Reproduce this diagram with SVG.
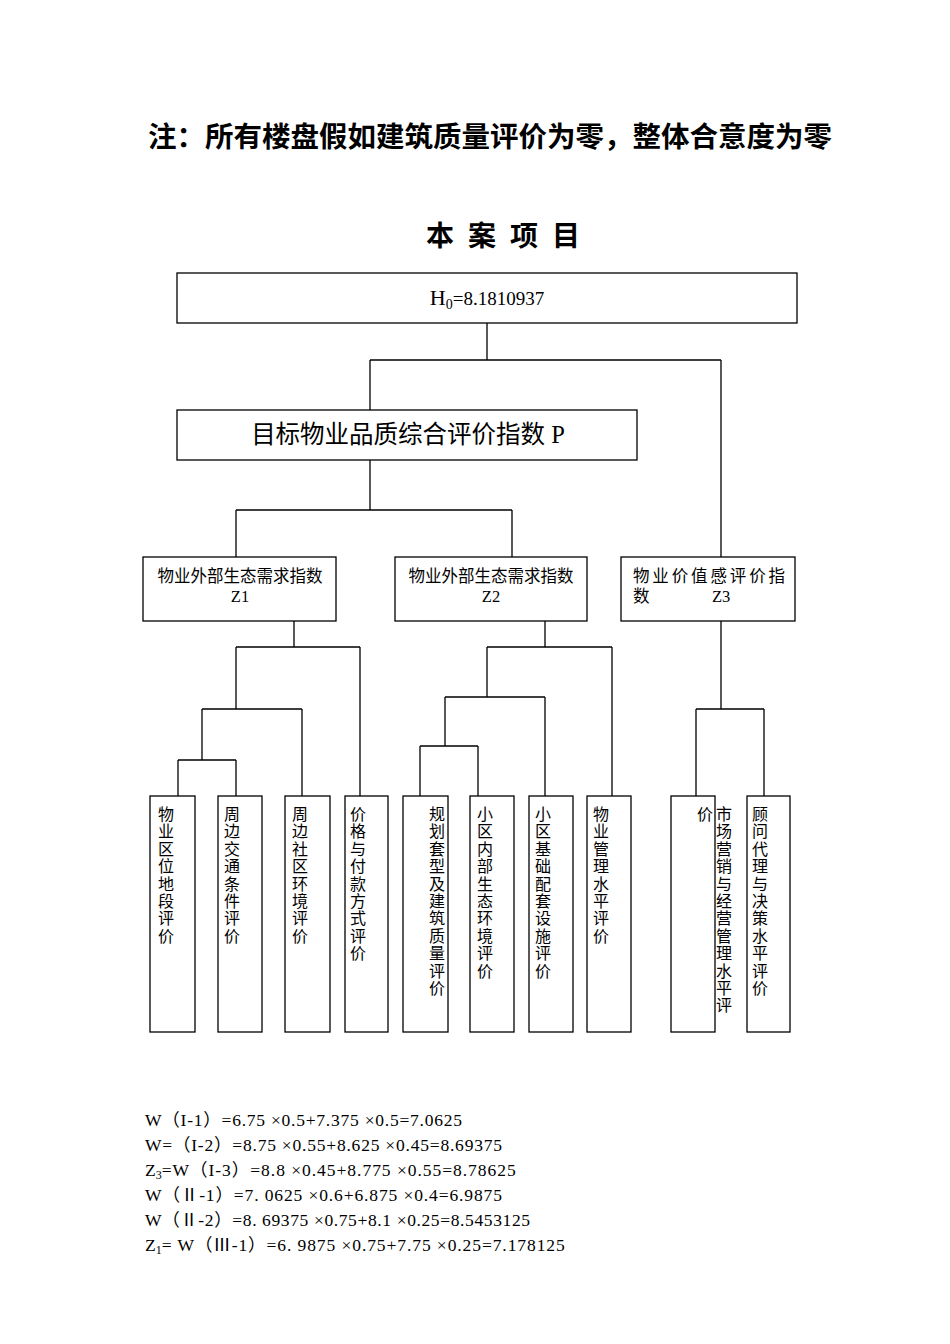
<svg xmlns="http://www.w3.org/2000/svg" width="950" height="1344" viewBox="0 0 950 1344">
<style>
.b{fill:#fff;stroke:#000;stroke-width:1.3}
.c{fill:none;stroke:#000;stroke-width:1.3}
text{font-family:"Liberation Serif","Noto Sans CJK SC",serif;fill:#000}
.h{font-weight:bold;font-size:28px}
.m{font-size:16.5px;text-anchor:middle}
.v{font-size:16px;text-anchor:middle}
.f{font-size:17.5px}
</style>
<rect width="950" height="1344" fill="#fff"/>
<text class="h" x="148" y="147" textLength="684" lengthAdjust="spacingAndGlyphs">注：所有楼盘假如建筑质量评价为零，整体合意度为零</text>
<text class="h" x="510" y="246" text-anchor="middle" letter-spacing="14">本案项目</text>
<g id="connectors">
<path class="c" d="M487 323V360M370 360H721M370 360V410M721 360V557"/>
<path class="c" d="M370 460V510M236 510H512M236 510V557M512 510V557"/>
<path class="c" d="M294 621V647M236 647H360M360 647V796M236 647V709M202 709H302M302 709V796M202 709V760M178 760H236M178 760V796M236 760V796"/>
<path class="c" d="M545 621V647M487 647H612M612 647V796M487 647V697M445 697H545M545 697V796M445 697V746M420 746H478M420 746V796M478 746V796"/>
<path class="c" d="M721 621V709M696 709H764M696 709V796M764 709V796"/>
</g>
<g id="H0"><rect class="b" x="177" y="273" width="620" height="50"/><text x="487" y="305" text-anchor="middle" font-size="22">H<tspan font-size="14" dy="4">0</tspan><tspan dy="-4" font-size="19">=8.1810937</tspan></text></g>
<g id="P"><rect class="b" x="177" y="410" width="460" height="50"/><text x="408" y="443" text-anchor="middle" font-size="24.5">目标物业品质综合评价指数 P</text></g>
<g id="Z1"><rect class="b" x="143" y="557" width="193" height="64"/><text class="m" x="240" y="582">物业外部生态需求指数</text><text class="m" x="240" y="602">Z1</text></g>
<g id="Z2"><rect class="b" x="395" y="557" width="192" height="64"/><text class="m" x="491" y="582">物业外部生态需求指数</text><text class="m" x="491" y="602">Z2</text></g>
<g id="Z3"><rect class="b" x="621" y="557" width="174" height="64"/><text x="633" y="582" font-size="16.5" textLength="152" lengthAdjust="spacing">物业价值感评价指</text><text x="633" y="602" font-size="16.5">数<tspan x="712">Z3</tspan></text></g>
<g id="n1"><rect class="b" x="150" y="796" width="45" height="236"/><text class="v"><tspan x="166" y="820">物</tspan><tspan x="166" dy="17.4">业</tspan><tspan x="166" dy="17.4">区</tspan><tspan x="166" dy="17.4">位</tspan><tspan x="166" dy="17.4">地</tspan><tspan x="166" dy="17.4">段</tspan><tspan x="166" dy="17.4">评</tspan><tspan x="166" dy="17.4">价</tspan></text></g>
<g id="n2"><rect class="b" x="218" y="796" width="44" height="236"/><text class="v"><tspan x="232" y="820">周</tspan><tspan x="232" dy="17.4">边</tspan><tspan x="232" dy="17.4">交</tspan><tspan x="232" dy="17.4">通</tspan><tspan x="232" dy="17.4">条</tspan><tspan x="232" dy="17.4">件</tspan><tspan x="232" dy="17.4">评</tspan><tspan x="232" dy="17.4">价</tspan></text></g>
<g id="n3"><rect class="b" x="285" y="796" width="45" height="236"/><text class="v"><tspan x="300" y="820">周</tspan><tspan x="300" dy="17.4">边</tspan><tspan x="300" dy="17.4">社</tspan><tspan x="300" dy="17.4">区</tspan><tspan x="300" dy="17.4">环</tspan><tspan x="300" dy="17.4">境</tspan><tspan x="300" dy="17.4">评</tspan><tspan x="300" dy="17.4">价</tspan></text></g>
<g id="n4"><rect class="b" x="345" y="796" width="43" height="236"/><text class="v"><tspan x="358" y="820">价</tspan><tspan x="358" dy="17.4">格</tspan><tspan x="358" dy="17.4">与</tspan><tspan x="358" dy="17.4">付</tspan><tspan x="358" dy="17.4">款</tspan><tspan x="358" dy="17.4">方</tspan><tspan x="358" dy="17.4">式</tspan><tspan x="358" dy="17.4">评</tspan><tspan x="358" dy="17.4">价</tspan></text></g>
<g id="n5"><rect class="b" x="403" y="796" width="45" height="236"/><text class="v"><tspan x="437" y="820">规</tspan><tspan x="437" dy="17.4">划</tspan><tspan x="437" dy="17.4">套</tspan><tspan x="437" dy="17.4">型</tspan><tspan x="437" dy="17.4">及</tspan><tspan x="437" dy="17.4">建</tspan><tspan x="437" dy="17.4">筑</tspan><tspan x="437" dy="17.4">质</tspan><tspan x="437" dy="17.4">量</tspan><tspan x="437" dy="17.4">评</tspan><tspan x="437" dy="17.4">价</tspan></text></g>
<g id="n6"><rect class="b" x="470" y="796" width="44" height="236"/><text class="v"><tspan x="485" y="820">小</tspan><tspan x="485" dy="17.4">区</tspan><tspan x="485" dy="17.4">内</tspan><tspan x="485" dy="17.4">部</tspan><tspan x="485" dy="17.4">生</tspan><tspan x="485" dy="17.4">态</tspan><tspan x="485" dy="17.4">环</tspan><tspan x="485" dy="17.4">境</tspan><tspan x="485" dy="17.4">评</tspan><tspan x="485" dy="17.4">价</tspan></text></g>
<g id="n7"><rect class="b" x="529" y="796" width="44" height="236"/><text class="v"><tspan x="543" y="820">小</tspan><tspan x="543" dy="17.4">区</tspan><tspan x="543" dy="17.4">基</tspan><tspan x="543" dy="17.4">础</tspan><tspan x="543" dy="17.4">配</tspan><tspan x="543" dy="17.4">套</tspan><tspan x="543" dy="17.4">设</tspan><tspan x="543" dy="17.4">施</tspan><tspan x="543" dy="17.4">评</tspan><tspan x="543" dy="17.4">价</tspan></text></g>
<g id="n8"><rect class="b" x="587" y="796" width="44" height="236"/><text class="v"><tspan x="601" y="820">物</tspan><tspan x="601" dy="17.4">业</tspan><tspan x="601" dy="17.4">管</tspan><tspan x="601" dy="17.4">理</tspan><tspan x="601" dy="17.4">水</tspan><tspan x="601" dy="17.4">平</tspan><tspan x="601" dy="17.4">评</tspan><tspan x="601" dy="17.4">价</tspan></text></g>
<g id="n9"><rect class="b" x="671" y="796" width="44" height="236"/><text class="v"><tspan x="705" y="820">价</tspan></text><text class="v"><tspan x="724" y="820">市</tspan><tspan x="724" dy="17.4">场</tspan><tspan x="724" dy="17.4">营</tspan><tspan x="724" dy="17.4">销</tspan><tspan x="724" dy="17.4">与</tspan><tspan x="724" dy="17.4">经</tspan><tspan x="724" dy="17.4">营</tspan><tspan x="724" dy="17.4">管</tspan><tspan x="724" dy="17.4">理</tspan><tspan x="724" dy="17.4">水</tspan><tspan x="724" dy="17.4">平</tspan><tspan x="724" dy="17.4">评</tspan></text></g>
<g id="n10"><rect class="b" x="747" y="796" width="43" height="236"/><text class="v"><tspan x="760" y="820">顾</tspan><tspan x="760" dy="17.4">问</tspan><tspan x="760" dy="17.4">代</tspan><tspan x="760" dy="17.4">理</tspan><tspan x="760" dy="17.4">与</tspan><tspan x="760" dy="17.4">决</tspan><tspan x="760" dy="17.4">策</tspan><tspan x="760" dy="17.4">水</tspan><tspan x="760" dy="17.4">平</tspan><tspan x="760" dy="17.4">评</tspan><tspan x="760" dy="17.4">价</tspan></text></g>
<g id="formulas">
<text class="f" x="145" y="1126" textLength="317">W（I-1）=6.75 ×0.5+7.375 ×0.5=7.0625</text>
<text class="f" x="145" y="1151" textLength="357">W=（I-2）=8.75 ×0.55+8.625 ×0.45=8.69375</text>
<text class="f" x="145" y="1176">Z<tspan font-size="12" dy="3">3</tspan><tspan dy="-3" textLength="354">=W（I-3）=8.8 ×0.45+8.775 ×0.55=8.78625</tspan></text>
<text class="f" x="145" y="1201" textLength="357">W（Ⅱ-1）=7. 0625 ×0.6+6.875 ×0.4=6.9875</text>
<text class="f" x="145" y="1226" textLength="385">W（Ⅱ-2）=8. 69375 ×0.75+8.1 ×0.25=8.5453125</text>
<text class="f" x="145" y="1251">Z<tspan font-size="12" dy="3">1</tspan><tspan dy="-3" textLength="403">= W（Ⅲ-1）=6. 9875 ×0.75+7.75 ×0.25=7.178125</tspan></text>
</g>
</svg>
